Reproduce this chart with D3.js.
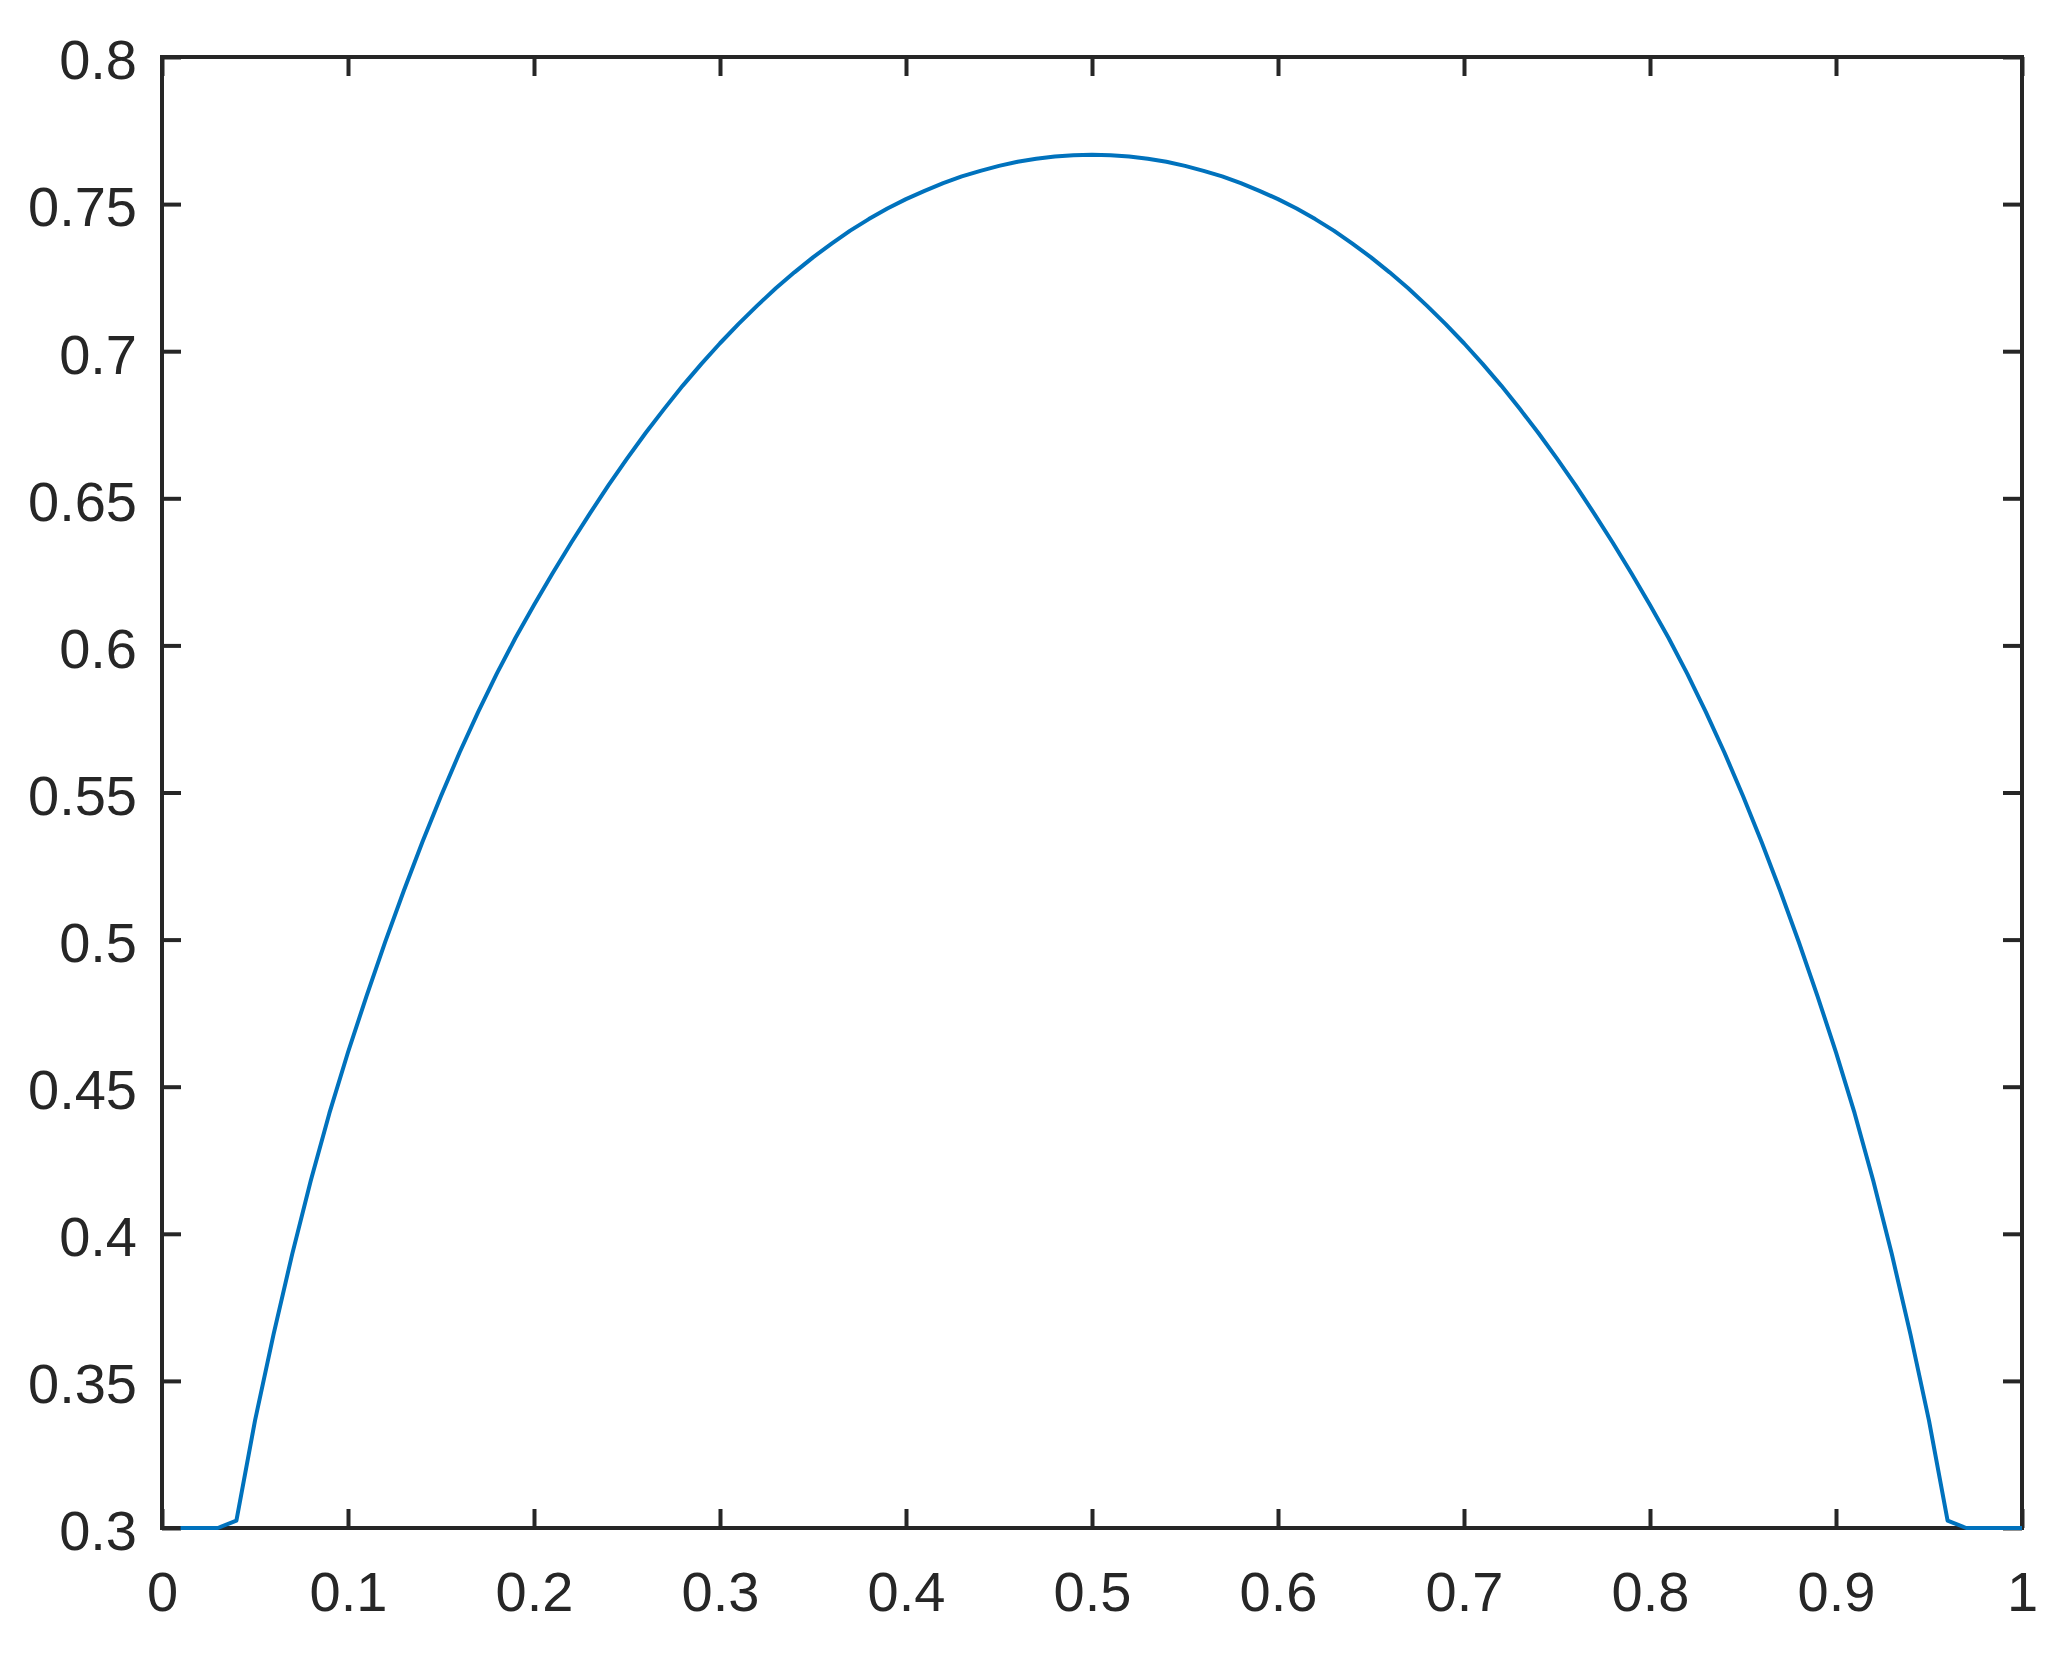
<!DOCTYPE html>
<html>
<head>
<meta charset="utf-8">
<script src="https://cdn.jsdelivr.net/npm/d3@7"></script>
<style>
  html, body { margin: 0; padding: 0; background: #ffffff; }
  svg { display: block; }
</style>
</head>
<body>
<svg id="chart" width="2064" height="1653"></svg>
<script>
// ---- data ----
const xValues = d3.range(1, 101).map(i => i / 100);
const yValues = [
  0.3, 0.3, 0.3, 0.3025, 0.3365, 0.3659, 0.3931, 0.4181, 0.4410, 0.4617,
  0.4809, 0.4992, 0.5166, 0.5332, 0.5488, 0.5636, 0.5774, 0.5904, 0.6025, 0.6137,
  0.6245, 0.6349, 0.6448, 0.6544, 0.6635, 0.6722, 0.6804, 0.6883, 0.6957, 0.7027,
  0.7093, 0.7155, 0.7214, 0.7268, 0.7319, 0.7366, 0.7410, 0.7449, 0.7485, 0.7517,
  0.7545, 0.7571, 0.7594, 0.7613, 0.7630, 0.7644, 0.7654, 0.7662, 0.7666, 0.7668,
  0.7666, 0.7662, 0.7654, 0.7644, 0.7630, 0.7613, 0.7594, 0.7571, 0.7545, 0.7517,
  0.7485, 0.7449, 0.7410, 0.7366, 0.7319, 0.7268, 0.7214, 0.7155, 0.7093, 0.7027,
  0.6957, 0.6883, 0.6804, 0.6722, 0.6635, 0.6544, 0.6448, 0.6349, 0.6245, 0.6137,
  0.6025, 0.5904, 0.5774, 0.5636, 0.5488, 0.5332, 0.5166, 0.4992, 0.4809, 0.4617,
  0.4410, 0.4181, 0.3931, 0.3659, 0.3365, 0.3025, 0.3, 0.3, 0.3, 0.3
];
const xTicks = [0, 0.1, 0.2, 0.3, 0.4, 0.5, 0.6, 0.7, 0.8, 0.9, 1];
const xTickLabels = ["0", "0.1", "0.2", "0.3", "0.4", "0.5", "0.6", "0.7", "0.8", "0.9", "1"];
const yTicks = [0.3, 0.35, 0.4, 0.45, 0.5, 0.55, 0.6, 0.65, 0.7, 0.75, 0.8];
const yTickLabels = ["0.3", "0.35", "0.4", "0.45", "0.5", "0.55", "0.6", "0.65", "0.7", "0.75", "0.8"];
const xDomain = [0, 1];
const yDomain = [0.3, 0.8];

// ---- layout ----
const W = 2064, H = 1653;
const m = { left: 162, right: 42, top: 57, bottom: 125 };
const iw = W - m.left - m.right;
const ih = H - m.top - m.bottom;
const axisColor = "#262626";
const lineColor = "#0072BD";
const fontFamily = "'Liberation Sans', Arial, Helvetica, sans-serif";
const fontSize = 56;
const tickLen = 19;

const svg = d3.select("#chart");
svg.append("rect").attr("width", W).attr("height", H).attr("fill", "#ffffff");
const g = svg.append("g").attr("transform", `translate(${m.left},${m.top})`);

const x = d3.scaleLinear().domain(xDomain).range([0, iw]);
const y = d3.scaleLinear().domain(yDomain).range([ih, 0]);

function styleAxis(sel) {
  sel.select(".domain").remove();
  sel.selectAll(".tick line").attr("stroke", axisColor).attr("stroke-width", 4);
  sel.selectAll(".tick text")
    .attr("fill", axisColor)
    .style("font-family", fontFamily)
    .style("font-size", fontSize + "px");
}

// bottom axis
g.append("g").attr("transform", `translate(0,${ih})`)
  .call(d3.axisBottom(x).tickValues(xTicks)
    .tickFormat((d, i) => xTickLabels[i])
    .tickSizeInner(-tickLen).tickSizeOuter(0).tickPadding(43))
  .call(styleAxis);

// top axis (ticks only)
g.append("g")
  .call(d3.axisTop(x).tickValues(xTicks).tickFormat("")
    .tickSizeInner(-tickLen).tickSizeOuter(0))
  .call(styleAxis);

// left axis
const la = g.append("g")
  .call(d3.axisLeft(y).tickValues(yTicks)
    .tickFormat((d, i) => yTickLabels[i])
    .tickSizeInner(-tickLen).tickSizeOuter(0).tickPadding(25))
  .call(styleAxis);
la.selectAll(".tick text").attr("dy", "0.39em");

// right axis (ticks only)
g.append("g").attr("transform", `translate(${iw},0)`)
  .call(d3.axisRight(y).tickValues(yTicks).tickFormat("")
    .tickSizeInner(-tickLen).tickSizeOuter(0))
  .call(styleAxis);

// box
g.append("rect")
  .attr("x", 0).attr("y", 0).attr("width", iw).attr("height", ih)
  .attr("fill", "none").attr("stroke", axisColor).attr("stroke-width", 4);

// curve
const pts = xValues.map((xv, i) => [xv, yValues[i]]);
g.append("path")
  .datum(pts)
  .attr("fill", "none")
  .attr("stroke", lineColor)
  .attr("stroke-width", 4)
  .attr("stroke-linejoin", "round")
  .attr("d", d3.line().x(d => x(d[0])).y(d => y(d[1])));
</script>
</body>
</html>
